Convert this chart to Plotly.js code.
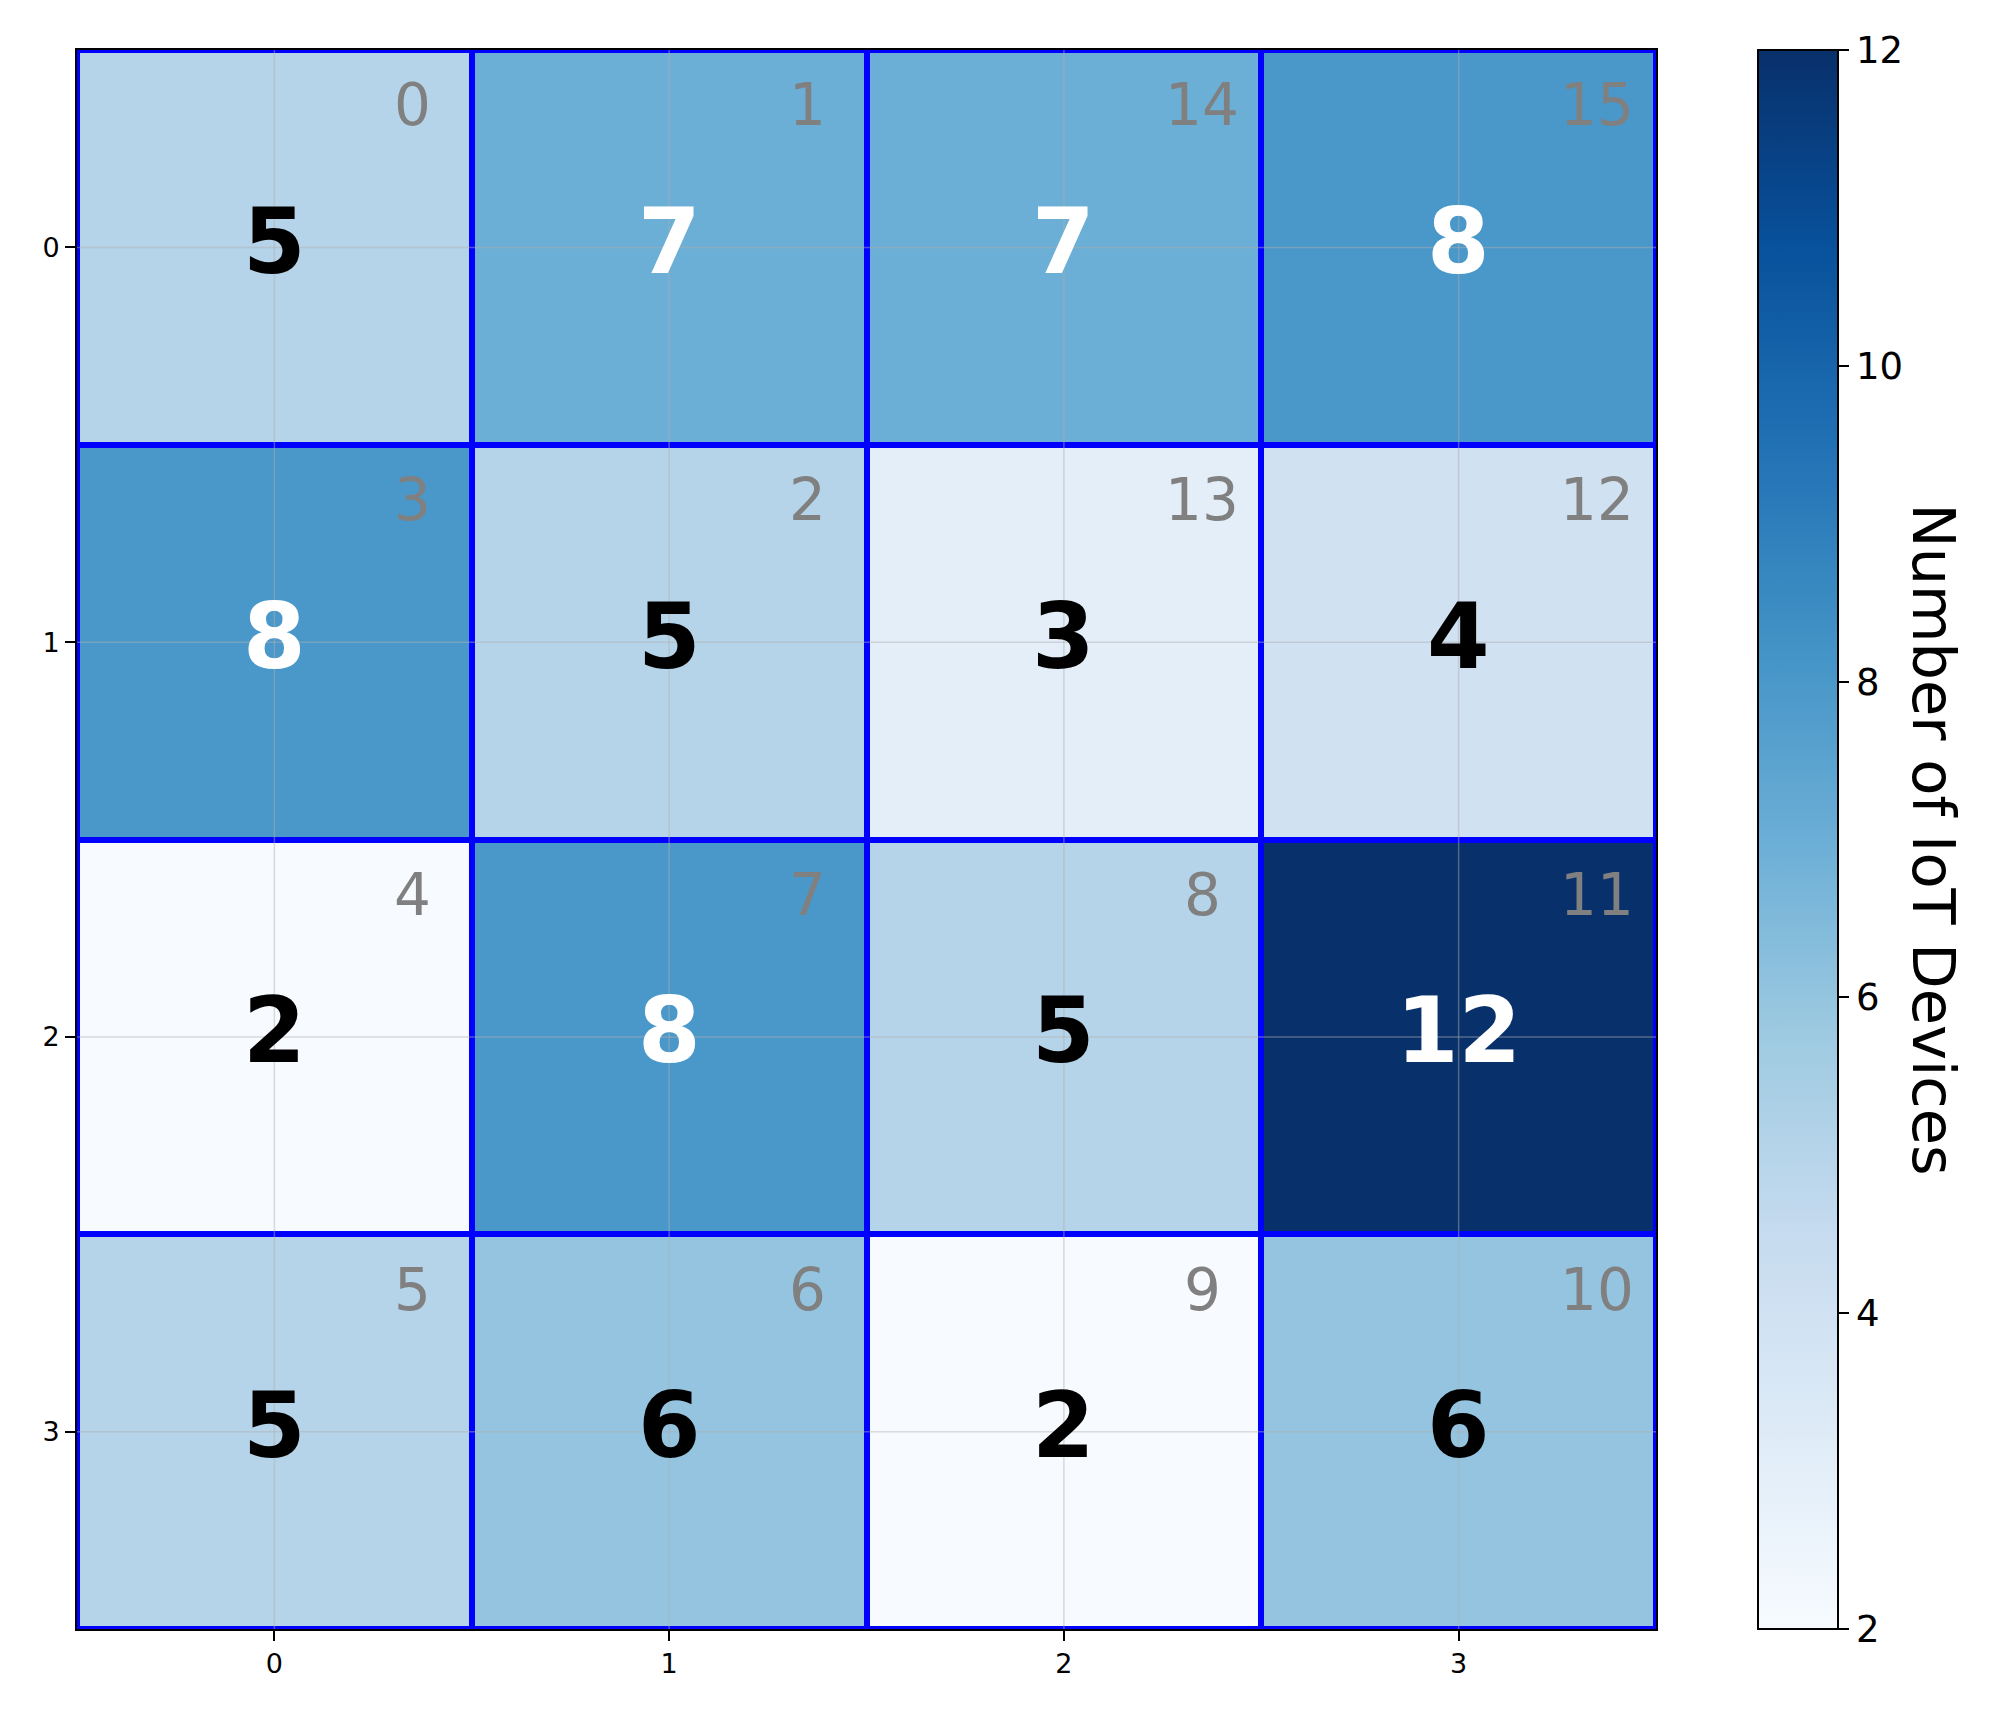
<!DOCTYPE html>
<html>
<head>
<meta charset="utf-8">
<script src="https://cdn.plot.ly/plotly-3.0.1.min.js"></script>
<style>
    html, body { margin: 0; padding: 0; background: #fff; }
    #chart { width: 2002px; height: 1713px; }
</style>
</head>
<body>
<div id="chart"></div>
<script>
// grid positions
const cols = [0, 1, 2, 3];
const rows = [0, 1, 2, 3];

// IoT device counts per cell (row by row, top to bottom)
const deviceCounts = [
    [5, 7, 7, 8],
    [8, 5, 3, 4],
    [2, 8, 5, 12],
    [5, 6, 2, 6]
];

// small index shown in the corner of each cell
const cellIds = [
    [0, 1, 14, 15],
    [3, 2, 13, 12],
    [4, 7, 8, 11],
    [5, 6, 9, 10]
];

const colorTicks = [2, 4, 6, 8, 10, 12];

// matplotlib "Blues"
const bluesStops = ['#f7fbff', '#deebf7', '#c6dbef', '#9ecae1', '#6baed6', '#4292c6', '#2171b5', '#08519c', '#08306b'];
const bluesScale = bluesStops.map((c, i) => [i / (bluesStops.length - 1), c]);

const font = 'DejaVu Sans, sans-serif';

const heat = {
    type: 'heatmap',
    x: cols,
    y: rows,
    z: deviceCounts,
    zmin: 2,
    zmax: 12,
    colorscale: bluesScale,
    xgap: 6,
    ygap: 6,
    hoverinfo: 'skip',
    colorbar: {
        thickness: 80,
        thicknessmode: 'pixels',
        len: 1,
        lenmode: 'fraction',
        x: 1.0646,
        xanchor: 'left',
        xpad: 0,
        ypad: 0,
        y: 0.5,
        yanchor: 'middle',
        outlinewidth: 2,
        outlinecolor: '#000',
        tickvals: colorTicks,
        ticks: 'outside',
        ticklen: 10,
        tickwidth: 2,
        tickcolor: '#000',
        tickfont: { family: font, size: 37, color: '#000' }
    }
};

const annotations = [];
rows.forEach((r, i) => {
    cols.forEach((c, j) => {
        const v = deviceCounts[i][j];
        annotations.push({
            x: c, y: r - 0.015, xref: 'x', yref: 'y',
            text: String(v),
            showarrow: false,
            font: { family: font, size: 90, color: v > 6.5 ? '#fff' : '#000', weight: 'bold' },
            xanchor: 'center', yanchor: 'middle'
        });
        annotations.push({
            x: c + 0.35, y: r - 0.36, xref: 'x', yref: 'y',
            text: String(cellIds[i][j]),
            showarrow: false,
            font: { family: font, size: 58, color: '#808080' },
            xanchor: 'center', yanchor: 'middle'
        });
    });
});

annotations.push({
    x: 1.176, y: 0.5, xref: 'paper', yref: 'paper',
    text: 'Number of IoT Devices',
    showarrow: false,
    textangle: 90,
    font: { family: font, size: 59, color: '#000' },
    xanchor: 'center', yanchor: 'middle'
});

// faint grid lines drawn over the cells
const gridColor = 'rgba(176,176,176,0.45)';
const shapes = [];
cols.forEach(c => shapes.push({
    type: 'line', xref: 'x', yref: 'paper', x0: c, x1: c, y0: 0, y1: 1,
    line: { color: gridColor, width: 1.5 }, layer: 'above'
}));
rows.forEach(r => shapes.push({
    type: 'line', xref: 'paper', yref: 'y', x0: 0, x1: 1, y0: r, y1: r,
    line: { color: gridColor, width: 1.5 }, layer: 'above'
}));

const axisStyle = {
    ticks: 'outside',
    ticklen: 10,
    tickwidth: 2,
    tickcolor: '#000',
    tickfont: { family: font, size: 27, color: '#000' },
    showline: true,
    mirror: true,
    linecolor: '#000',
    linewidth: 2,
    showgrid: false,
    zeroline: false
};

const layout = {
    width: 2002,
    height: 1713,
    margin: { l: 77, r: 346, t: 50, b: 84 },
    paper_bgcolor: '#fff',
    plot_bgcolor: '#0000ff',
    font: { family: font, color: '#000' },
    xaxis: { ...axisStyle, range: [-0.5, 3.5], tickvals: cols },
    yaxis: { ...axisStyle, range: [3.5, -0.5], tickvals: rows },
    annotations: annotations,
    shapes: shapes,
    showlegend: false
};

Plotly.newPlot('chart', [heat], layout, { displayModeBar: false, staticPlot: true });
</script>
</body>
</html>
